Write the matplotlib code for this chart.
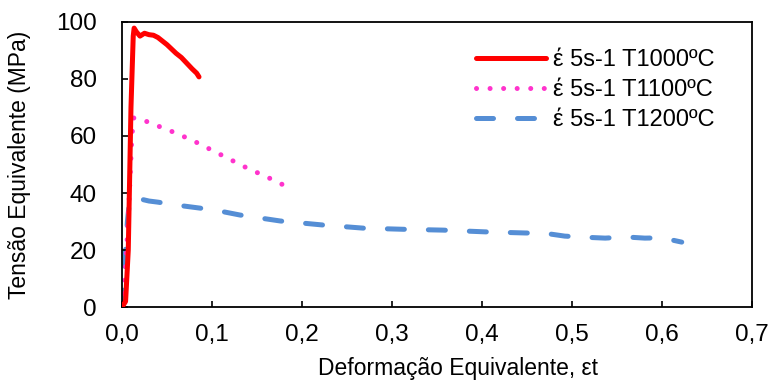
import matplotlib.pyplot as plt
from matplotlib.ticker import FuncFormatter

plt.rcParams['font.family'] = ['Liberation Sans', 'DejaVu Sans']

# Curvas tensão-deformação (taxa 5 s-1)
x_1000 = [0.0, 0.004, 0.007, 0.010, 0.0125, 0.0135, 0.016, 0.020, 0.025, 0.030, 0.035,
          0.040, 0.050, 0.060, 0.066, 0.072, 0.078, 0.083, 0.0856]
y_1000 = [0.0, 2.0, 20.0, 70.0, 95.0, 97.8, 96.5, 95.0, 96.0, 95.5, 95.3,
          94.5, 92.0, 89.0, 87.5, 85.5, 83.5, 82.0, 80.7]

x_1100 = [0.0, 0.003, 0.006, 0.009, 0.011, 0.013, 0.020, 0.040, 0.060, 0.080,
          0.100, 0.120, 0.140, 0.160, 0.175, 0.184]
y_1100 = [0.0, 8.0, 25.0, 45.0, 60.0, 66.3, 66.0, 63.5, 61.0, 58.2,
          55.0, 51.8, 48.6, 45.8, 43.5, 42.1]

x_1200 = [0.0, 0.002, 0.004, 0.006, 0.008, 0.010, 0.015, 0.030, 0.040, 0.060, 0.087,
          0.110, 0.131, 0.176, 0.223, 0.268, 0.312, 0.357, 0.403, 0.448, 0.470,
          0.492, 0.515, 0.537, 0.560, 0.581, 0.600, 0.622]
y_1200 = [0.0, 8.0, 20.0, 30.0, 36.0, 38.5, 38.3, 37.2, 36.8, 35.8, 34.7,
          33.6, 32.3, 30.2, 28.8, 27.7, 27.3, 27.0, 26.4, 26.0, 25.9,
          24.9, 24.5, 24.2, 24.6, 24.2, 24.3, 22.8]

labels = ['έ 5s-1 T1000ºC', 'έ 5s-1 T1100ºC', 'έ 5s-1 T1200ºC']

fig = plt.figure(figsize=(7.72, 3.83), dpi=100)
ax = fig.add_axes([0.158, 0.198, 0.816, 0.745])

ax.plot(x_1000, y_1000, color='#ff0000', lw=3.6, solid_capstyle='round',
        solid_joinstyle='round', label=labels[0], zorder=3)
ax.plot(x_1100, y_1100, color='#ff33cc', lw=3.6, linestyle=(0, (0.01, 2.7)),
        dash_capstyle='round', label=labels[1], zorder=2)
ax.plot(x_1200, y_1200, color='#558ed5', lw=3.6, linestyle=(0, (3.4, 4.8)),
        dash_capstyle='round', label=labels[2], zorder=1)

ax.set_xlim(0, 0.7)
ax.set_ylim(0, 100)
ax.set_xticks([0, 0.1, 0.2, 0.3, 0.4, 0.5, 0.6, 0.7])
ax.set_yticks([0, 20, 40, 60, 80, 100])
ax.xaxis.set_major_formatter(FuncFormatter(lambda v, p: f'{v:.1f}'.replace('.', ',')))
ax.tick_params(direction='in', length=4, width=1.2, labelsize=17.5)
ax.tick_params(axis='x', pad=12)
ax.tick_params(axis='y', pad=18)
for s in ax.spines.values():
    s.set_linewidth(1.3)

ax.set_xlabel('Deformação Equivalente, εt', fontsize=16.5)
ax.set_ylabel('Tensão Equivalente (MPa)', fontsize=16.5)
ax.xaxis.set_label_coords(0.533, -0.175)
ax.yaxis.set_label_coords(-0.145, 0.498)

ax.legend(loc='upper right', bbox_to_anchor=(0.974, 0.978), fontsize=17,
          frameon=False, handlelength=2.95, handletextpad=0.3, labelspacing=0.34)

plt.savefig('out.png', dpi=100)
